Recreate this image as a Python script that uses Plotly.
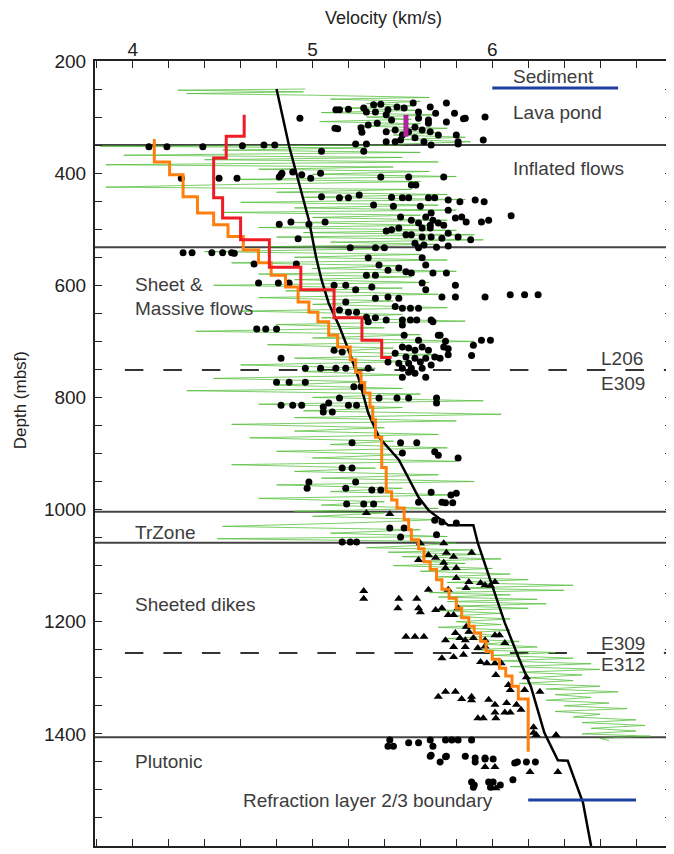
import plotly.graph_objects as go

# ---------------- data ----------------
# model velocity profile (black line)
model_vel = [4.80, 4.87, 4.925, 4.98, 5.02, 5.05, 5.09, 5.15, 5.20, 5.26, 5.31, 5.34, 5.37, 5.48, 5.59, 5.645,
             5.70, 5.755, 5.895, 5.92, 5.995, 6.07, 6.145, 6.215, 6.29, 6.365, 6.42, 6.475, 6.505, 6.53, 6.55]
model_depth = [250, 352, 418, 484, 550, 590, 632, 674, 715, 769, 828, 850, 871, 911, 978, 1001,
               1015, 1028, 1028, 1060, 1131, 1202, 1263, 1316, 1398, 1447, 1448, 1495, 1523, 1566, 1600]

# orange step profile
orange_top = 339
orange_vel = [4.12, 4.205, 4.28, 4.36, 4.45, 4.53, 4.615, 4.70, 4.77, 4.85, 4.92, 4.98, 5.03, 5.09, 5.14, 5.21,
              5.24, 5.27, 5.29, 5.32, 5.335, 5.35, 5.385, 5.41, 5.44, 5.47, 5.51, 5.535, 5.55, 5.59, 5.62, 5.655,
              5.69, 5.72, 5.76, 5.80, 5.83, 5.87, 5.90, 5.935, 5.965, 6.0, 6.04, 6.075, 6.11, 6.145, 6.2]
orange_base = [380, 403, 442, 471, 492, 513, 537, 560, 582, 603, 630, 648, 665, 689, 710, 733,
               755, 774, 792, 817, 840, 871, 925, 968, 983, 997, 1018, 1036, 1054, 1070, 1093, 1107,
               1125, 1142, 1158, 1176, 1193, 1208, 1220, 1235, 1253, 1267, 1283, 1297, 1315, 1338, 1432]

# red step profile
red_top = 296
red_vel = [4.62, 4.52, 4.45, 4.50, 4.60, 4.76, 4.935, 5.12, 5.275, 5.385, 5.44]
red_base = [334, 373, 444, 480, 519, 568, 608, 658, 698, 729, 729]

# magenta bar (lava pond)
pond_vel = [5.52, 5.52]
pond_depth = [296, 335]

# blue reference lines
sediment_vel = [6.0, 6.7]
sediment_depth = [248, 248]
refraction_vel = [6.2, 6.8]
refraction_depth = [1518, 1518]

# green sonic log, by zone
log_top_d = [250, 252, 255, 258, 261, 265, 268, 272, 276, 280, 284, 288, 292, 296, 300, 304, 308, 312, 316, 320,
             324, 328, 332, 336, 340, 344, 348]
log_top_v = [4.96, 4.25, 4.95, 4.3, 5.0, 5.65, 5.1, 5.6, 5.3, 5.55, 5.15, 5.6, 5.05, 5.7, 5.3, 5.55, 5.04, 5.6, 5.25,
             5.75, 5.4, 5.7, 5.45, 5.85, 5.5, 5.88, 5.5]
log_infl_d = [350, 352, 355, 359, 363, 368, 372, 376, 380, 385, 389, 393, 397, 402, 406, 411, 415, 420, 425, 429,
              434, 438, 443, 447, 452, 457, 462, 466, 470, 475, 479, 484, 488, 493, 497, 502, 506, 510, 514, 519,
              523, 527, 531]
log_infl_v = [5.5, 3.82, 5.3, 4.5, 5.6, 3.95, 5.5, 4.4, 5.7, 3.85, 5.45, 4.7, 5.65, 5.0, 5.8, 4.6, 5.6, 4.6, 3.85,
              5.55, 4.8, 5.75, 4.95, 5.85, 4.6, 5.7, 4.9, 5.8, 4.5, 5.6, 5.0, 5.75, 4.9, 5.65, 4.7, 5.8, 4.95, 5.9,
              4.8, 5.95, 5.1, 5.7, 4.75]
log_sheet_d = [535, 540, 545, 550, 555, 560, 565, 570, 575, 580, 585, 590, 595, 600, 605, 610, 616, 622, 628, 634,
               640, 646, 652, 658, 664, 670, 676, 682, 688, 694, 700, 706, 712, 718, 724, 730, 736, 742, 748, 754,
               760, 766, 772, 778, 784, 788, 794, 800, 806, 812, 818, 824, 830, 836, 842, 848, 854, 860, 866, 872,
               878, 884, 890, 896, 902, 908, 914, 920, 926, 932, 938, 944, 950, 956, 962, 968, 974, 980, 986, 992,
               998, 1003]
log_sheet_v = [5.4, 4.4, 5.6, 4.9, 5.75, 4.55, 5.5, 5.0, 5.8, 4.7, 5.55, 4.9, 5.65, 4.45, 5.5, 4.85, 5.7, 4.7, 5.45,
               5.0, 5.75, 4.6, 5.5, 5.05, 5.85, 4.8, 5.4, 4.35, 5.6, 5.0, 5.9, 4.75, 5.45, 5.1, 5.7, 4.9, 5.55, 4.6,
               5.35, 4.95, 5.5, 4.45, 5.3, 4.8, 5.5, 4.3, 5.6, 5.0, 5.95, 4.7, 5.5, 4.95, 6.05, 4.9, 5.8, 4.55, 5.4,
               4.9, 5.7, 4.65, 5.45, 5.1, 5.75, 4.8, 5.5, 5.0, 5.8, 4.55, 5.35, 4.9, 5.7, 5.05, 5.9, 4.8, 5.5, 5.1,
               5.8, 4.7, 5.4, 5.05, 5.7, 4.9]
log_tr_d = [1006, 1012, 1018, 1024, 1030, 1036, 1042, 1048, 1052, 1056, 1060]
log_tr_v = [5.4, 5.0, 5.7, 5.2, 4.5, 5.6, 5.1, 5.75, 4.47, 5.5, 5.8]
log_dike_d = [1064, 1068, 1072, 1076, 1080, 1084, 1088, 1092, 1096, 1100, 1105, 1110, 1115, 1120, 1125, 1130, 1135,
              1140, 1144, 1148, 1152, 1156, 1160, 1164, 1168, 1172, 1176, 1180, 1185, 1190, 1195, 1200, 1205, 1210,
              1215, 1220, 1225, 1230, 1235, 1240, 1245, 1250, 1255, 1260, 1265, 1270, 1275, 1280, 1285, 1290, 1295,
              1300, 1305, 1310, 1315, 1320, 1325, 1330, 1335, 1340, 1345, 1350, 1355, 1360, 1365, 1370, 1375, 1380,
              1385, 1390, 1395, 1400, 1404, 1408, 1412]
log_dike_v = [5.6, 5.3, 5.9, 5.42, 5.95, 5.5, 6.05, 5.6, 5.85, 5.45, 6.0, 5.6, 6.1, 5.7, 6.2, 5.75, 6.45, 5.8, 6.4,
              5.65, 6.1, 5.7, 6.25, 5.75, 6.3, 5.8, 6.2, 5.7, 6.05, 5.75, 6.1, 5.8, 6.05, 5.7, 6.1, 5.85, 6.05, 5.75,
              6.15, 5.95, 6.25, 5.9, 6.35, 6.0, 6.45, 6.05, 6.55, 6.1, 6.6, 6.15, 6.5, 6.2, 6.45, 6.15, 6.6, 6.3,
              6.7, 6.35, 6.55, 6.3, 6.65, 6.4, 6.75, 6.35, 6.6, 6.45, 6.8, 6.5, 6.85, 6.55, 6.8, 6.5, 6.88, 6.6, 6.65]

# discrete sample velocities (circles)
dot_vel = [
    5.13, 5.125, 5.20, 4.93, 5.285, 5.30, 5.34, 5.38, 5.35, 5.41, 5.44, 5.36, 5.31, 5.27, 5.275, 5.41, 5.46, 5.42,
    5.47, 5.51, 5.56, 5.59, 5.655, 5.685, 5.745, 5.79, 5.84, 5.745, 5.645, 5.645, 5.59, 5.57, 5.61, 5.655, 5.70,
    5.57, 5.62, 5.66, 5.80, 5.81, 5.49, 5.46, 5.41, 5.50, 5.535, 5.96, 5.85, 5.95, 5.15, 5.14,
    4.73, 4.79, 5.24, 5.30, 5.285, 5.05, 4.09, 4.19, 4.39, 4.61, 5.81,
    4.815, 4.83, 4.89, 4.94, 4.99, 5.045, 5.38, 5.535, 5.55, 5.575, 5.73, 5.05, 5.15, 5.20, 5.26, 5.34, 5.44,
    5.45, 5.50, 5.535, 5.60, 5.645, 5.68, 5.755, 5.82, 5.755, 5.49, 5.55, 5.59, 5.63, 5.66, 5.67, 5.61, 5.655,
    5.70, 5.73, 5.795, 5.83, 5.855, 5.48, 5.44, 5.41, 5.55, 5.61, 5.66, 5.72, 5.755, 5.81, 5.88, 5.52, 5.57,
    5.62, 5.69, 5.755, 5.655, 4.815, 4.88, 4.98, 5.07, 4.92, 6.105, 5.98, 5.94, 5.905, 5.955, 4.27, 4.48, 4.58,
    4.825,
    4.28, 4.33, 4.44, 4.50, 4.55, 5.21, 5.35, 5.40, 5.61, 5.63, 5.59,
    4.565, 4.675, 4.91, 4.70, 4.81, 4.87, 5.12, 5.185, 5.31, 5.37, 5.42, 5.48, 5.52, 5.55, 5.67, 5.745, 5.30,
    5.35, 5.24, 5.33, 5.35, 5.42, 5.48, 5.61, 5.63, 5.72, 5.185, 5.15, 5.20, 5.245, 5.30, 5.35, 5.41, 5.31,
    5.46, 5.50, 5.545, 5.59, 5.50, 5.545, 5.58, 5.66, 5.50, 4.69, 4.74, 4.80, 5.51, 5.59, 5.70, 5.50, 5.535,
    5.57, 5.61, 5.645, 5.73, 5.755, 5.46, 5.52, 5.57, 5.63, 5.68, 5.71, 5.48, 5.535, 5.60, 5.66, 5.42, 5.50,
    5.55, 5.61, 5.535, 5.57, 5.63, 5.50, 4.825, 4.96, 5.045, 5.13, 5.185, 5.31, 5.12, 5.165, 4.80, 4.87, 4.96,
    5.23, 5.27, 4.825, 4.89, 4.94, 5.06, 5.09, 5.06, 5.11, 5.15, 5.20, 5.245, 5.37, 5.47, 5.535, 5.69, 5.69,
    5.795, 5.795, 5.96, 6.10, 6.18, 6.255, 5.67, 5.71, 5.74, 5.755, 5.895, 5.94, 5.99, 5.885,
    5.22, 5.165, 5.22, 5.24, 4.98, 4.97, 5.185, 5.33, 5.38, 5.19, 5.285, 5.34, 5.49, 5.58, 5.50, 5.68, 5.70,
    5.81, 5.66, 5.77, 5.80, 5.72, 5.78, 5.59, 5.74, 5.43, 5.49, 5.51, 5.69, 5.68, 5.72, 5.80, 5.165, 5.21, 5.245,
    5.43, 5.42, 5.45, 5.535, 5.59, 5.655, 5.67, 5.74, 5.775, 5.81, 5.885, 5.655, 5.74, 5.85, 5.905, 5.96, 5.66,
    5.71, 5.745, 5.905, 5.96, 6.005, 6.125, 6.14, 6.19, 6.24, 5.885, 5.90, 5.895, 5.98, 6.005, 5.99, 6.045, 6.115]
dot_depth = [
    287, 320, 286, 302, 284, 291, 278, 277, 291, 296, 305, 311, 314, 319, 327, 326, 323, 287,
    282, 284, 275, 291, 282, 293, 275, 293, 303, 309, 305, 311, 302, 318, 323, 326, 332,
    337, 344, 350, 332, 344, 341, 344, 344, 332, 326, 300, 302, 341, 287, 321,
    350, 350, 348, 348, 361, 361, 353, 353, 353, 351, 348,
    407, 400, 398, 403, 409, 400, 407, 407, 421, 421, 407, 442, 444, 444, 439, 457, 443,
    459, 444, 444, 459, 444, 444, 448, 451, 466, 478, 484, 489, 478, 471, 484, 498, 498,
    489, 493, 480, 478, 487, 498, 501, 503, 510, 514, 514, 516, 507, 514, 519, 510, 525,
    528, 532, 530, 493, 491, 487, 491, 487, 517, 476, 484, 487, 448, 451, 409, 409, 409,
    403,
    542, 542, 542, 542, 542, 533, 533, 533, 551, 564, 533,
    543, 562, 562, 596, 596, 596, 600, 600, 551, 564, 573, 569, 576, 578, 578, 578, 582,
    582, 608, 603, 623, 621, 623, 596, 608, 621, 630, 644, 648, 648, 657, 658, 662, 665,
    638, 641, 641, 641, 662, 662, 662, 662, 671, 678, 678, 678, 689, 698, 689, 710, 712,
    716, 710, 716, 710, 724, 721, 728, 730, 730, 728, 730, 739, 739, 737, 742, 737, 748,
    748, 748, 755, 757, 764, 764, 730, 748, 748, 748, 748, 748, 716, 719, 773, 773, 773,
    781, 781, 814, 814, 814, 817, 810, 826, 826, 801, 814, 814, 801, 801, 801, 801, 810,
    600, 621, 621, 617, 617, 617, 665, 689, 700, 713, 707, 698, 698, 725,
    881, 926, 926, 951, 951, 962, 962, 965, 965, 990, 990, 990, 881, 881, 899, 897, 903,
    908, 969, 974, 971, 987, 988, 987, 988, 1033, 1049, 1033, 1045, 1019, 1022, 1024, 1058, 1058, 1058,
    1411, 1422, 1422, 1416, 1416, 1411, 1422, 1411, 1411, 1411, 1411, 1440, 1441, 1440, 1443, 1443, 1438,
    1450, 1440, 1450, 1445, 1445, 1452, 1450, 1450, 1450, 1486, 1491, 1495, 1486, 1486, 1495, 1491, 1482]

# discrete sample velocities (triangles)
tri_vel = [5.30, 5.43, 5.60, 5.73, 5.59, 5.645, 5.685, 5.745, 5.785, 5.73, 5.74, 5.80, 5.885, 5.80, 5.87, 5.855,
           5.935, 5.96, 6.015, 5.99, 5.645, 5.755, 5.285, 5.285, 5.48, 5.58, 5.475, 5.59, 5.60, 5.685, 5.72, 5.755,
           5.785, 5.81, 5.855, 5.87, 5.795, 5.82, 5.52, 5.57, 5.62, 5.74, 5.85, 5.895, 5.96, 6.015, 6.04, 6.07,
           5.785, 5.85, 5.92, 5.96, 5.72, 5.785, 5.84, 5.935, 5.97, 6.015, 6.05, 6.02, 6.19, 6.09, 6.10, 6.18,
           6.265, 5.74, 5.795, 5.70, 5.83, 5.885, 5.885, 5.98, 6.015, 6.08, 6.135, 6.16, 6.015, 6.07, 6.10, 5.92,
           5.95, 6.02, 6.23, 6.245, 6.355, 6.23, 5.96, 6.015, 6.21, 6.365, 6.02]
tri_depth = [1006, 1008, 1060, 1060, 1090, 1081, 1086, 1077, 1084, 1095, 1104, 1104, 1077, 1122, 1129, 1140,
             1131, 1135, 1129, 1136, 1143, 1143, 1145, 1159, 1159, 1159, 1176, 1176, 1183, 1179, 1176, 1188,
             1188, 1176, 1209, 1218, 1220, 1229, 1227, 1227, 1227, 1233, 1233, 1229, 1233, 1224, 1224, 1238,
             1245, 1245, 1247, 1244, 1265, 1263, 1259, 1272, 1274, 1274, 1274, 1295, 1299, 1313, 1322, 1322,
             1325, 1325, 1325, 1334, 1338, 1334, 1340, 1339, 1348, 1345, 1348, 1357, 1362, 1362, 1362, 1372,
             1372, 1372, 1388, 1402, 1402, 1398, 1459, 1459, 1468, 1468, 1497]

# unit boundaries
solid_bounds = [350, 532, 1004, 1059, 1406]
dashed_bounds = [751, 1256]

# labels: (text, velocity, depth, anchor)
labels = [
    ("Sediment", 6.34, 228, "center"),
    ("Lava pond", 6.105, 291, "left"),
    ("Inflated flows", 6.105, 391, "left"),
    ("Sheet &", 4.0, 598, "left"),
    ("Massive flows", 4.0, 641, "left"),
    ("L206", 6.85, 731, "right"),
    ("E309", 6.86, 776, "right"),
    ("TrZone", 4.0, 1040, "left"),
    ("Sheeted dikes", 4.0, 1170, "left"),
    ("E309", 6.86, 1238, "right"),
    ("E312", 6.86, 1277, "right"),
    ("Plutonic", 4.0, 1450, "left"),
    ("Refraction layer 2/3 boundary", 4.604, 1519, "left"),
]


def steps(top, vels, bases):
    xs, ys = [], []
    t = top
    for v, b in zip(vels, bases):
        xs += [v, v]
        ys += [t, b]
        t = b
    return xs, ys


FONT = "Liberation Sans, Arial, Helvetica, sans-serif"

# the page body adds an 8 px offset, so the figure is 8 px smaller than the window
PLOT_W = 674 - 95
PLOT_H = 846 - 61

fig = go.Figure()

log_d = log_top_d + log_infl_d + log_sheet_d + log_tr_d + log_dike_d
log_v = log_top_v + log_infl_v + log_sheet_v + log_tr_v + log_dike_v
fig.add_trace(go.Scatter(x=log_v, y=log_d, mode="lines",
                         line=dict(color="rgba(80,190,55,0.75)", width=1)))

fig.add_trace(go.Scatter(x=dot_vel, y=dot_depth, mode="markers",
                         marker=dict(symbol="circle", size=7, color="black")))
fig.add_trace(go.Scatter(x=tri_vel, y=tri_depth, mode="markers",
                         marker=dict(symbol="triangle-up", size=8, color="black")))

fig.add_trace(go.Scatter(x=model_vel, y=model_depth, mode="lines",
                         line=dict(color="black", width=2.5)))

ox, oy = steps(orange_top, orange_vel, orange_base)
fig.add_trace(go.Scatter(x=ox, y=oy, mode="lines", line=dict(color="#ff7f0e", width=3)))
rx, ry = steps(red_top, red_vel, red_base)
fig.add_trace(go.Scatter(x=rx, y=ry, mode="lines", line=dict(color="#ee1c25", width=3)))

fig.add_trace(go.Scatter(x=pond_vel, y=pond_depth, mode="lines", line=dict(color="#b0259a", width=5)))
fig.add_trace(go.Scatter(x=sediment_vel, y=sediment_depth, mode="lines", line=dict(color="#1f3f9f", width=3)))
fig.add_trace(go.Scatter(x=refraction_vel, y=refraction_depth, mode="lines", line=dict(color="#1f3f9f", width=3)))

for d in solid_bounds:
    fig.add_shape(type="line", xref="paper", x0=0, x1=1, yref="y", y0=d, y1=d,
                  line=dict(color="#444444", width=2), layer="below")
for d in dashed_bounds:
    fig.add_shape(type="line", xref="paper", x0=30 / PLOT_W, x1=1, yref="y", y0=d, y1=d,
                  line=dict(color="#333333", width=2, dash="18.5px,20px"), layer="below")

for text, v, d, anc in labels:
    fig.add_annotation(x=v, y=d, xref="x", yref="y", text=text, showarrow=False,
                       xanchor=anc, yanchor="middle",
                       font=dict(family=FONT, size=19, color="#3c3c3c"))

fig.add_annotation(x=-(95 - 20) / PLOT_W, y=1 - (400 - 61) / PLOT_H, xref="paper", yref="paper",
                   text="Depth (mbsf)", showarrow=False, textangle=-90,
                   xanchor="center", yanchor="middle",
                   font=dict(family=FONT, size=17, color="#222"))

fig.update_layout(
    width=666, height=846,
    margin=dict(l=87, r=0, t=53, b=8),
    paper_bgcolor="white", plot_bgcolor="white",
    showlegend=False,
    font=dict(family=FONT, size=19, color="#222"),
    xaxis=dict(
        side="top", range=[3.79, 7.0], tick0=4, dtick=1,
        ticks="inside", ticklen=7, tickwidth=1, tickcolor="#222",
        minor=dict(dtick=0.2, tick0=4, ticks="inside", ticklen=7, tickwidth=1, tickcolor="#222"),
        showline=True, linecolor="#222", linewidth=2, mirror="allticks",
        showgrid=False, zeroline=False,
        title=dict(text="Velocity (km/s)", font=dict(size=18), standoff=10),
        tickfont=dict(size=19), ticklabelstandoff=-5,
    ),
    yaxis=dict(
        range=[1600, 200], tick0=200, dtick=200,
        ticks="inside", ticklen=7, tickwidth=1, tickcolor="#222",
        minor=dict(dtick=50, tick0=200, ticks="inside", ticklen=7, tickwidth=1, tickcolor="#222"),
        showline=True, linecolor="#222", linewidth=2, mirror="allticks",
        showgrid=False, zeroline=False,
        tickfont=dict(size=19), ticklabelstandoff=3,
    ),
)

fig.write_html("out.html")
